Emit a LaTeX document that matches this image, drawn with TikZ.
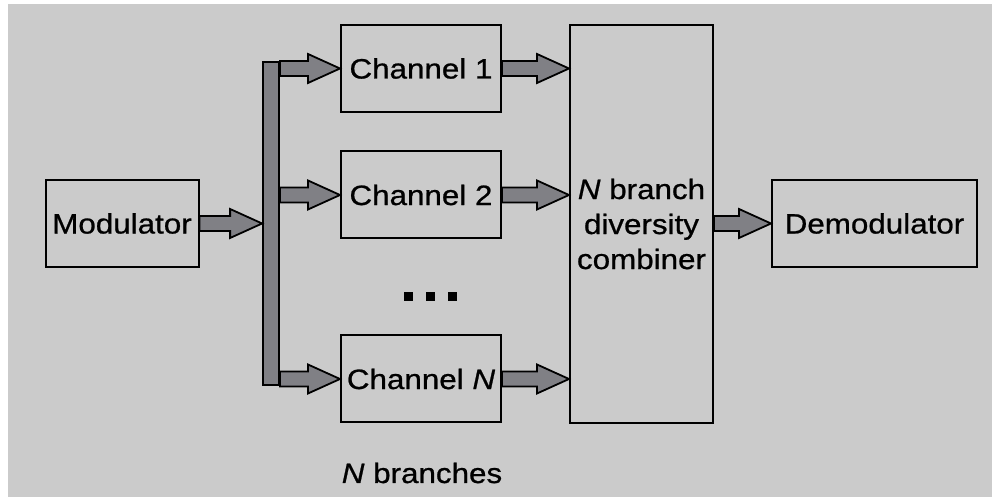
\documentclass[tikz,border=0pt]{standalone}
\usepackage{fontspec}
\usetikzlibrary{calc}
\newfontfamily\labfont[FakeStretch=1.12,FakeBold=0.8]{Liberation Sans}
\definecolor{bggray}{RGB}{203,203,203}
\definecolor{arrgray}{RGB}{128,128,133}
\tikzset{
  blk/.style={draw=black, line width=2pt, fill=none, inner sep=0pt, align=center,
    font=\labfont\fontsize{28}{35}\selectfont},
  blockarr/.style={draw=black, fill=arrgray, line width=1.8pt, line join=miter,
    to path={let \p1=(\tikztostart), \p2=(\tikztotarget) in
      (\x1,\y1+7.5pt) -- (\x2-32pt,\y1+7.5pt) -- (\x2-32pt,\y1+14.5pt) -- (\x2,\y1)
      -- (\x2-32pt,\y1-14.5pt) -- (\x2-32pt,\y1-7.5pt) -- (\x1,\y1-7.5pt) -- cycle}},
  dotsq/.style={fill=black, minimum size=9pt, inner sep=0pt},
  lab/.style={inner sep=0pt, font=\labfont\fontsize{28}{35}\selectfont}
}
\begin{document}
\begin{tikzpicture}[x=1pt,y=1pt]
\useasboundingbox (0,0) rectangle (992,497);
\fill[white] (0,0) rectangle (992,497);
\fill[bggray] (8,0) rectangle (992,493);
% boxes
\node[blk, minimum width=153pt, minimum height=87pt] (mod) at (122,273.5) {Modulator};
\node[blk, minimum width=160pt, minimum height=87pt] (ch1) at (421,428.5) {Channel 1};
\node[blk, minimum width=160pt, minimum height=87pt] (ch2) at (421,302) {Channel 2};
\node[blk, minimum width=160pt, minimum height=87pt] (chN) at (421,118) {Channel \textit{N}};
\node[blk, minimum width=143pt, minimum height=398pt] (comb) at (641.5,273) {\textit{N} branch\\diversity\\combiner};
\node[blk, minimum width=205pt, minimum height=87pt] (demod) at (874.5,273.5) {Demodulator};
% bus bar
\node[draw=black, line width=1.8pt, fill=arrgray, minimum width=16pt, minimum height=323pt, inner sep=0pt] (bus) at (271,273.5) {};
% arrows
\path[blockarr] (mod.east) to (mod.east -| bus.west);
\path[blockarr] (ch1.west -| bus.east) to (ch1.west);
\path[blockarr] (ch2.west -| bus.east) to (ch2.west);
\path[blockarr] (chN.west -| bus.east) to (chN.west);
\path[blockarr] (ch1.east) to (ch1.east -| comb.west);
\path[blockarr] (ch2.east) to (ch2.east -| comb.west);
\path[blockarr] (chN.east) to (chN.east -| comb.west);
\path[blockarr] (comb.east |- demod.west) to (demod.west);
% dots
\node[dotsq] (d1) at (408,200) {};
\node[dotsq] (d2) at (430,200) {};
\node[dotsq] (d3) at (452,200) {};
% label
\node[lab, anchor=base] (nb) at (422,14) {\textit{N} branches};
\end{tikzpicture}
\end{document}
